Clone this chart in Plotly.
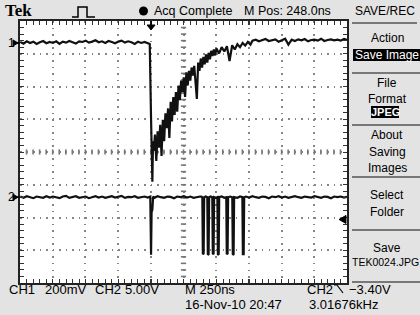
import plotly.graph_objects as go

# ---------------- data (read from the screen) ----------------
# time in ns relative to the trigger point, CH1 in mV, CH2 in V
ch1_t_pre = [-1000, -975, -950, -925, -900, -875, -850, -825, -800, -775,
             -750, -725, -700, -675, -650, -625, -600, -575, -550, -525,
             -500, -475, -450, -425, -400, -375, -350, -325, -300, -275,
             -250, -225, -200, -175, -150, -125, -100, -75, -50, -25]
ch1_mv_pre = [6, -4, 10, 0, 8, -6, 4, 12, -2, 6, 0, 10, -6, 8, 2, 12, 4, -4, 10, 6,
              14, 2, 8, 16, 4, 10, 0, 12, 6, -2, 8, 14, 2, 10, 4, -6, 8, 0, 6, -4]
ch1_t_drop = [-10, 0, 5, 10, 15, 20, 30, 40, 50, 60, 70, 80, 90, 100, 110, 120, 130,
              140, 150, 160, 170, 180, 190, 200, 210, 220, 230, 240, 250, 260, 270,
              280, 290, 300, 310, 320, 330, 340, 350, 360, 370, 380, 390, 400, 410,
              420, 430, 440, 450, 460, 470, 480, 490, 500, 520, 540, 560, 580, 600,
              620, 640, 660, 680, 700, 720, 740, 760]
ch1_mv_drop = [-6, -464, -769, -848, -600, -660, -560, -720, -540, -640, -500, -690,
               -470, -600, -430, -520, -400, -580, -360, -480, -330, -440, -300, -420,
               -260, -350, -230, -300, -210, -330, -180, -260, -170, -230, -150, -200,
               -140, -240, -342, -120, -170, -95, -150, -85, -130, -70, -120, -60, -100,
               -48, -80, -40, -76, -34, -64, -26, -52, -20, -110, -14, -40, -8, -26, 0,
               -16, 6, -10]
ch1_t_post = [775, 800, 825, 850, 875, 900, 925, 950, 975, 1000, 1025, 1050, 1075,
              1100, 1125, 1150, 1175, 1200, 1225, 1250, 1275, 1300, 1325, 1350, 1375,
              1400, 1425, 1450, 1475, 1500]
ch1_mv_post = [14, 20, 10, 18, 24, 12, 16, 22, 8, 18, 26, -10, 20, 12, 22, 16, 24, 10,
               18, 20, 14, 26, 12, 18, 22, 16, 20, 14, 24, 18]

ch2_t_pre = [-1000, -975, -950, -925, -900, -875, -850, -825, -800, -775,
             -750, -725, -700, -675, -650, -625, -600, -575, -550, -525,
             -500, -475, -450, -425, -400, -375, -350, -325, -300, -275,
             -250, -225, -200, -175, -150, -125, -100, -75, -50, -25]
ch2_v_pre = [0.1, -0.1, 0.15, 0, -0.15, 0.1, 0.05, -0.1, 0.15, -0.05, 0.1, 0, -0.15,
             0.1, 0.2, -0.1, 0.05, 0.15, -0.1, 0, 0.1, -0.15, 0.05, 0.15, -0.05, 0.1,
             -0.1, 0, 0.15, -0.05, 0.1, 0.2, -0.1, 0.05, 0, 0.15, -0.1, 0.05, 0.1, -0.05]
ch2_t_spike = [-6, 0, 4, 10, 16, 25, 50, 75, 100, 125, 150, 175, 200, 225, 250, 275,
               300, 325, 350, 375]
ch2_v_spike = [0.1, -8.8, -2.3, -1.9, 0.1, -0.1, 0.15, 0, -0.1, 0.1, 0.05, -0.15, 0.1,
               0, 0.15, -0.05, 0.1, -0.1, 0.05, 0.1]
ch2_t_burst = [385, 392, 396, 402, 406, 418, 430, 434, 440, 444, 456, 468, 472, 478,
               482, 495, 507, 511, 517, 521, 540, 560, 575, 579, 585, 589, 605, 621,
               625, 631, 635, 660, 680, 698, 702, 708, 712]
ch2_v_burst = [0.1, 0, -8.7, -8.6, 0, 0.1, 0, -8.8, -8.7, 0, 0.1, 0, -8.6, -8.7, 0,
               -0.1, 0, -8.7, -8.8, 0, 0.1, -0.1, 0, -8.7, -8.6, 0, 0.1, 0, -8.8, -8.7,
               0, -0.1, 0.1, 0, -8.7, -8.7, 0]
ch2_t_post = [725, 750, 775, 800, 825, 850, 875, 900, 925, 950, 975, 1000, 1025, 1050,
              1075, 1100, 1125, 1150, 1175, 1200, 1225, 1250, 1275, 1300, 1325, 1350,
              1375, 1400, 1425, 1450, 1475, 1500]
ch2_v_post = [0.1, -0.05, 0.15, 0, -0.1, 0.1, 0.05, -0.15, 0.1, 0, 0.15, -0.05, 0.1,
              -0.1, 0.05, 0.15, 0, -0.1, 0.1, 0.05, -0.05, 0.15, 0, -0.1, 0.1, 0.05,
              -0.15, 0.1, 0, 0.1, -0.05, 0.05]

ch1_scale_mv = 200     # mV/div
ch2_scale_v = 5.0      # V/div
ch1_pos_div = 3.33
ch2_pos_div = -1.38
time_per_div = 250     # ns/div
m_pos_ns = 248.0
trig_level_v = -3.40

# ---------------- figure ----------------
ch1_t = ch1_t_pre + ch1_t_drop + ch1_t_post
ch1_mv = ch1_mv_pre + ch1_mv_drop + ch1_mv_post
ch2_t = ch2_t_pre + ch2_t_spike + ch2_t_burst + ch2_t_post
ch2_v = ch2_v_pre + ch2_v_spike + ch2_v_burst + ch2_v_post

center_t = m_pos_ns
x0 = center_t - 5 * time_per_div
x1 = center_t + 5 * time_per_div

W, H = 420, 315
L, R, T, B = 20, 347, 21, 283


def px(x):
    return (x - L) / (R - L)


def py(y):
    return (B - y) / (B - T)


FN = "Liberation Sans Narrow, Arial Narrow, Liberation Sans, sans-serif"
TRACE = "#111111"

fig = go.Figure()

# centre-line graticule marks
gx, gy = [], []
for k in range(1, 50):
    t = x0 + k * time_per_div / 5
    gx += [t, t, None]
    gy += [-0.08, 0.08, None]
for k in range(1, 40):
    v = -4 + k * 0.2
    gx += [center_t - 20, center_t + 20, None]
    gy += [v, v, None]
fig.add_trace(go.Scatter(x=gx, y=gy, mode="lines", line=dict(color="#777", width=1.6),
                         hoverinfo="skip"))

fig.add_trace(go.Scatter(x=ch1_t, y=[ch1_pos_div + v / ch1_scale_mv for v in ch1_mv],
                         mode="lines", line=dict(color=TRACE, width=2.2), hoverinfo="skip"))
fig.add_trace(go.Scatter(x=ch2_t, y=[ch2_pos_div + v / ch2_scale_v for v in ch2_v],
                         mode="lines", line=dict(color=TRACE, width=2.2), hoverinfo="skip"))

axis_common = dict(showticklabels=False, showgrid=True, gridcolor="#858585",
                   gridwidth=1.5, griddash="1.5px,5.04px", zeroline=False,
                   showline=True, linecolor="#222", linewidth=1.5, mirror="ticks",
                   ticks="inside", ticklen=4, tickcolor="#333", tickwidth=1)
fig.update_xaxes(range=[x0, x1], tick0=x0, dtick=time_per_div,
                 minor=dict(dtick=time_per_div / 5, ticks="inside", ticklen=4,
                            tickcolor="#333", showgrid=False), **axis_common)
fig.update_yaxes(range=[-4, 4], tick0=0, dtick=1,
                 minor=dict(dtick=0.2, ticks="inside", ticklen=4,
                            tickcolor="#333", showgrid=False), **axis_common)

ann = []


def text(s, x, y, size=13, anchor="left", color="black", family=FN):
    ann.append(dict(text=s, x=px(x), y=py(y), xref="paper", yref="paper",
                    xanchor=anchor, yanchor="middle", showarrow=False,
                    font=dict(family=family, size=size, color=color)))


shapes = []


def path(pts, fill=None, width=1.5, color="black"):
    d = "M " + " L ".join(f"{px(a)},{py(b)}" for a, b in pts)
    if fill:
        d += " Z"
    shapes.append(dict(type="path", xref="paper", yref="paper", path=d,
                       line=dict(color=color, width=width),
                       fillcolor=fill if fill else "rgba(0,0,0,0)"))


def rect(xa, ya, xb, yb, fill):
    shapes.append(dict(type="rect", xref="paper", yref="paper", x0=px(xa), x1=px(xb),
                       y0=py(yb), y1=py(ya), line=dict(width=0), fillcolor=fill))


def hline(xa, xb, y, color="#555", width=1.5):
    shapes.append(dict(type="line", xref="paper", yref="paper", x0=px(xa), x1=px(xb),
                       y0=py(y), y1=py(y), line=dict(color=color, width=width)))


# header
text("<b>Tek</b>", 3, 10, size=17, family="Liberation Serif, DejaVu Serif, serif")
path([(72, 17), (78, 17), (78, 7), (87, 7), (87, 17), (95, 17)], width=1.5)
shapes.append(dict(type="circle", xref="paper", yref="paper", x0=px(139), x1=px(148),
                   y0=py(15.5), y1=py(6.5), fillcolor="black", line=dict(width=0)))
text("Acq Complete", 152, 11.5, size=12.5)
text("M Pos: 248.0ns", 242, 11.5, size=12.5)
text("SAVE/REC", 385, 11.5, anchor="center", size=12)
hline(352, 417, 23)

# right menu
MX = 387
MS = 12
text("Action", MX, 38, size=MS, anchor="center")
rect(353, 49, 420, 61, "black")
text("Save Image", MX, 55, size=MS, anchor="center", color="white")
hline(352, 420, 73)
text("File", MX, 83, size=MS, anchor="center")
text("Format", MX, 99, size=MS, anchor="center")
rect(371, 106, 399, 118, "black")
text("<b>JPEG</b>", 385, 112, anchor="center", color="white", size=11)
hline(352, 420, 125)
text("About", MX, 135, size=MS, anchor="center")
text("Saving", MX, 152, size=MS, anchor="center")
text("Images", MX, 168, size=MS, anchor="center")
hline(352, 420, 177)
text("Select", MX, 195, size=MS, anchor="center")
text("Folder", MX, 212, size=MS, anchor="center")
hline(352, 420, 230)
text("Save", MX, 248, size=MS, anchor="center")
text("TEK0024.JPG", 350, 262, anchor="left", size=10.5)
hline(352, 420, 282)

# channel markers
for lab, pos in (("1", ch1_pos_div), ("2", ch2_pos_div)):
    yy = 152 - pos * (B - T) / 8
    text(lab, 6, yy, size=12)
    path([(13, yy - 3), (18, yy), (13, yy + 3)], fill="black", width=1)
    path([(13, yy), (20, yy)], width=1.5)

# trigger position marker (top)
trig_px = L + (0 - x0) / (x1 - x0) * (R - L)
path([(trig_px, 21), (trig_px, 25)], width=1.5)
path([(trig_px - 4, 25), (trig_px + 4, 25), (trig_px, 30)], fill="black", width=1)

# trigger level marker (right)
lvl_px = 152 - (ch2_pos_div + trig_level_v / ch2_scale_v) * (B - T) / 8
path([(339, lvl_px), (346, lvl_px - 4), (346, lvl_px + 4)], fill="black", width=1)

# bottom status
text("CH1", 7, 289)
text("200mV", 43, 289)
text("CH2", 93, 289)
text("5.00V", 123, 289)
text("M 250ns", 183, 289)
text("CH2", 305, 289)
path([(334, 285), (337, 285), (343, 293)], width=1.2)
text("\u22123.40V", 347, 289)
text("16-Nov-10 20:47", 183, 304)
text("3.01676kHz", 307, 304)

fig.update_layout(width=W, height=H, margin=dict(l=L, r=W - R, t=T, b=H - B, pad=0),
                  paper_bgcolor="#e3e3e3", plot_bgcolor="white", showlegend=False,
                  annotations=ann, shapes=shapes)

fig.write_html("out.html", config={"displayModeBar": False},
               post_script="document.body.style.margin='0px';"
                           "document.body.style.overflow='hidden';")
